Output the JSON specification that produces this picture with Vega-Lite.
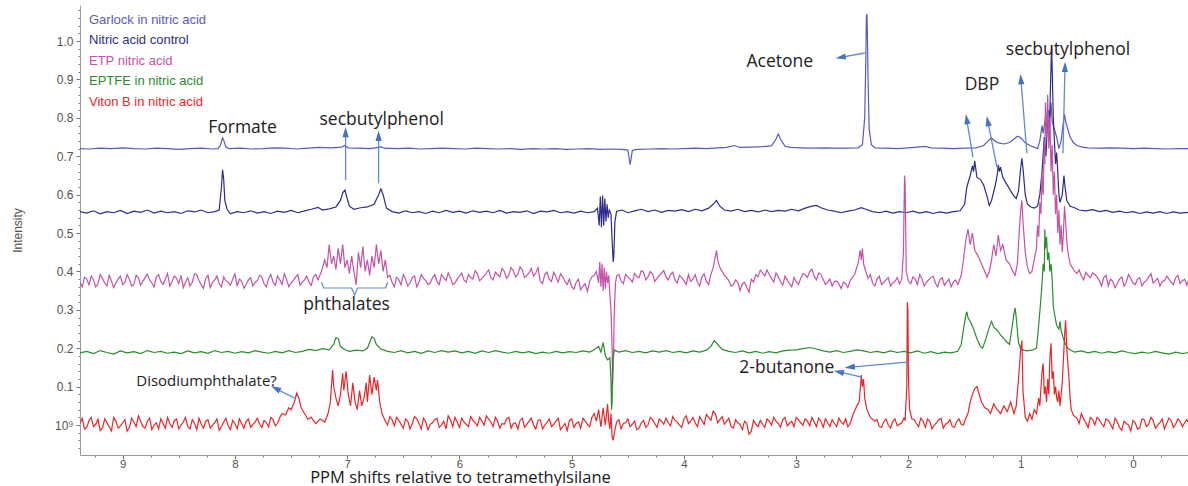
{
  "$schema": "https://vega.github.io/schema/vega-lite/v6.json",
  "width": 1108,
  "height": 450,
  "autosize": "none",
  "padding": {"left": 80, "top": 5, "right": 0, "bottom": 31},
  "background": "white",
  "config": {"view": {"stroke": null}, "axis": {"grid": false}},
  "datasets": {
    "garlock": [
      {"ppm":9.38,"v":0.720},{"ppm":9.3,"v":0.719},{"ppm":9.2,"v":0.721},{"ppm":9.1,"v":0.720},{"ppm":9.0,"v":0.722},{"ppm":8.9,"v":0.720},{"ppm":8.8,"v":0.719},{"ppm":8.7,"v":0.721},{"ppm":8.6,"v":0.720},{"ppm":8.5,"v":0.718},{"ppm":8.4,"v":0.720},{"ppm":8.3,"v":0.721},{"ppm":8.2,"v":0.719},{"ppm":8.15,"v":0.720},{"ppm":8.13,"v":0.728},{"ppm":8.11,"v":0.748},{"ppm":8.10,"v":0.742},{"ppm":8.08,"v":0.724},{"ppm":8.05,"v":0.720},{"ppm":7.95,"v":0.721},{"ppm":7.85,"v":0.719},{"ppm":7.75,"v":0.720},{"ppm":7.65,"v":0.722},{"ppm":7.55,"v":0.721},{"ppm":7.45,"v":0.719},{"ppm":7.35,"v":0.721},{"ppm":7.25,"v":0.723},{"ppm":7.15,"v":0.722},{"ppm":7.05,"v":0.724},{"ppm":7.02,"v":0.728},{"ppm":6.99,"v":0.722},{"ppm":6.9,"v":0.721},{"ppm":6.8,"v":0.720},{"ppm":6.72,"v":0.723},{"ppm":6.70,"v":0.725},{"ppm":6.67,"v":0.721},{"ppm":6.55,"v":0.720},{"ppm":6.45,"v":0.721},{"ppm":6.35,"v":0.719},{"ppm":6.25,"v":0.720},{"ppm":6.15,"v":0.721},{"ppm":6.05,"v":0.720},{"ppm":5.95,"v":0.719},{"ppm":5.85,"v":0.721},{"ppm":5.75,"v":0.720},{"ppm":5.65,"v":0.719},{"ppm":5.55,"v":0.720},{"ppm":5.45,"v":0.718},{"ppm":5.35,"v":0.720},{"ppm":5.25,"v":0.719},{"ppm":5.15,"v":0.720},{"ppm":5.05,"v":0.718},{"ppm":4.95,"v":0.719},{"ppm":4.85,"v":0.720},{"ppm":4.75,"v":0.718},{"ppm":4.65,"v":0.719},{"ppm":4.55,"v":0.718},{"ppm":4.50,"v":0.716},{"ppm":4.49,"v":0.700},{"ppm":4.48,"v":0.678},{"ppm":4.47,"v":0.695},{"ppm":4.46,"v":0.715},{"ppm":4.42,"v":0.718},{"ppm":4.3,"v":0.719},{"ppm":4.2,"v":0.720},{"ppm":4.1,"v":0.719},{"ppm":4.0,"v":0.720},{"ppm":3.9,"v":0.721},{"ppm":3.8,"v":0.720},{"ppm":3.7,"v":0.722},{"ppm":3.62,"v":0.723},{"ppm":3.55,"v":0.728},{"ppm":3.5,"v":0.723},{"ppm":3.4,"v":0.724},{"ppm":3.3,"v":0.725},{"ppm":3.22,"v":0.727},{"ppm":3.18,"v":0.745},{"ppm":3.16,"v":0.758},{"ppm":3.14,"v":0.745},{"ppm":3.1,"v":0.726},{"ppm":3.05,"v":0.723},{"ppm":2.95,"v":0.722},{"ppm":2.85,"v":0.721},{"ppm":2.75,"v":0.722},{"ppm":2.65,"v":0.721},{"ppm":2.55,"v":0.721},{"ppm":2.45,"v":0.722},{"ppm":2.41,"v":0.730},{"ppm":2.39,"v":0.80},{"ppm":2.38,"v":0.95},{"ppm":2.375,"v":1.065},{"ppm":2.37,"v":1.07},{"ppm":2.365,"v":1.0},{"ppm":2.36,"v":0.90},{"ppm":2.35,"v":0.77},{"ppm":2.33,"v":0.73},{"ppm":2.3,"v":0.722},{"ppm":2.2,"v":0.721},{"ppm":2.1,"v":0.720},{"ppm":2.0,"v":0.722},{"ppm":1.92,"v":0.724},{"ppm":1.85,"v":0.726},{"ppm":1.8,"v":0.722},{"ppm":1.7,"v":0.721},{"ppm":1.6,"v":0.720},{"ppm":1.5,"v":0.721},{"ppm":1.4,"v":0.722},{"ppm":1.33,"v":0.728},{"ppm":1.29,"v":0.740},{"ppm":1.26,"v":0.748},{"ppm":1.24,"v":0.742},{"ppm":1.2,"v":0.735},{"ppm":1.15,"v":0.732},{"ppm":1.1,"v":0.736},{"ppm":1.06,"v":0.745},{"ppm":1.03,"v":0.752},{"ppm":1.0,"v":0.748},{"ppm":0.96,"v":0.735},{"ppm":0.92,"v":0.728},{"ppm":0.88,"v":0.724},{"ppm":0.85,"v":0.72},{"ppm":0.83,"v":0.74},{"ppm":0.81,"v":0.78},{"ppm":0.80,"v":0.76},{"ppm":0.78,"v":0.80},{"ppm":0.77,"v":0.78},{"ppm":0.75,"v":0.82},{"ppm":0.74,"v":0.80},{"ppm":0.73,"v":0.84},{"ppm":0.72,"v":0.79},{"ppm":0.70,"v":0.77},{"ppm":0.68,"v":0.75},{"ppm":0.66,"v":0.72},{"ppm":0.64,"v":0.74},{"ppm":0.62,"v":0.79},{"ppm":0.61,"v":0.81},{"ppm":0.60,"v":0.79},{"ppm":0.58,"v":0.77},{"ppm":0.56,"v":0.75},{"ppm":0.53,"v":0.735},{"ppm":0.50,"v":0.728},{"ppm":0.45,"v":0.724},{"ppm":0.4,"v":0.722},{"ppm":0.3,"v":0.721},{"ppm":0.2,"v":0.722},{"ppm":0.1,"v":0.721},{"ppm":0.0,"v":0.720},{"ppm":-0.1,"v":0.721},{"ppm":-0.2,"v":0.720},{"ppm":-0.3,"v":0.719},{"ppm":-0.4,"v":0.720},{"ppm":-0.49,"v":0.720}
    ],
    "control": [
      {"ppm":9.38,"v":0.556},{"ppm":9.32,"v":0.552},{"ppm":9.26,"v":0.558},{"ppm":9.2,"v":0.550},{"ppm":9.14,"v":0.556},{"ppm":9.08,"v":0.553},{"ppm":9.02,"v":0.559},{"ppm":8.96,"v":0.551},{"ppm":8.9,"v":0.557},{"ppm":8.84,"v":0.554},{"ppm":8.78,"v":0.560},{"ppm":8.72,"v":0.552},{"ppm":8.66,"v":0.557},{"ppm":8.6,"v":0.553},{"ppm":8.54,"v":0.556},{"ppm":8.48,"v":0.551},{"ppm":8.42,"v":0.558},{"ppm":8.36,"v":0.555},{"ppm":8.30,"v":0.560},{"ppm":8.24,"v":0.553},{"ppm":8.18,"v":0.556},{"ppm":8.14,"v":0.560},{"ppm":8.12,"v":0.62},{"ppm":8.11,"v":0.665},{"ppm":8.10,"v":0.64},{"ppm":8.09,"v":0.585},{"ppm":8.07,"v":0.562},{"ppm":8.04,"v":0.550},{"ppm":7.98,"v":0.556},{"ppm":7.92,"v":0.553},{"ppm":7.86,"v":0.558},{"ppm":7.8,"v":0.552},{"ppm":7.74,"v":0.556},{"ppm":7.68,"v":0.551},{"ppm":7.62,"v":0.557},{"ppm":7.56,"v":0.554},{"ppm":7.5,"v":0.559},{"ppm":7.44,"v":0.553},{"ppm":7.38,"v":0.558},{"ppm":7.32,"v":0.562},{"ppm":7.26,"v":0.567},{"ppm":7.22,"v":0.560},{"ppm":7.16,"v":0.563},{"ppm":7.10,"v":0.568},{"ppm":7.06,"v":0.585},{"ppm":7.04,"v":0.605},{"ppm":7.02,"v":0.612},{"ppm":7.00,"v":0.59},{"ppm":6.98,"v":0.57},{"ppm":6.94,"v":0.562},{"ppm":6.88,"v":0.566},{"ppm":6.82,"v":0.568},{"ppm":6.76,"v":0.575},{"ppm":6.72,"v":0.60},{"ppm":6.70,"v":0.615},{"ppm":6.68,"v":0.60},{"ppm":6.65,"v":0.565},{"ppm":6.6,"v":0.556},{"ppm":6.54,"v":0.552},{"ppm":6.48,"v":0.558},{"ppm":6.42,"v":0.553},{"ppm":6.36,"v":0.556},{"ppm":6.3,"v":0.551},{"ppm":6.24,"v":0.557},{"ppm":6.18,"v":0.553},{"ppm":6.12,"v":0.559},{"ppm":6.06,"v":0.554},{"ppm":6.0,"v":0.557},{"ppm":5.94,"v":0.552},{"ppm":5.88,"v":0.558},{"ppm":5.82,"v":0.554},{"ppm":5.76,"v":0.557},{"ppm":5.7,"v":0.553},{"ppm":5.64,"v":0.559},{"ppm":5.58,"v":0.552},{"ppm":5.52,"v":0.556},{"ppm":5.46,"v":0.554},{"ppm":5.4,"v":0.558},{"ppm":5.34,"v":0.551},{"ppm":5.28,"v":0.557},{"ppm":5.22,"v":0.555},{"ppm":5.16,"v":0.559},{"ppm":5.1,"v":0.553},{"ppm":5.04,"v":0.556},{"ppm":4.98,"v":0.552},{"ppm":4.92,"v":0.557},{"ppm":4.86,"v":0.553},{"ppm":4.8,"v":0.556},{"ppm":4.77,"v":0.565},{"ppm":4.755,"v":0.52},{"ppm":4.745,"v":0.595},{"ppm":4.735,"v":0.515},{"ppm":4.725,"v":0.598},{"ppm":4.715,"v":0.52},{"ppm":4.705,"v":0.59},{"ppm":4.695,"v":0.53},{"ppm":4.685,"v":0.575},{"ppm":4.675,"v":0.54},{"ppm":4.665,"v":0.56},{"ppm":4.65,"v":0.55},{"ppm":4.64,"v":0.48},{"ppm":4.63,"v":0.425},{"ppm":4.625,"v":0.44},{"ppm":4.615,"v":0.53},{"ppm":4.6,"v":0.557},{"ppm":4.55,"v":0.560},{"ppm":4.5,"v":0.553},{"ppm":4.44,"v":0.558},{"ppm":4.38,"v":0.562},{"ppm":4.32,"v":0.556},{"ppm":4.26,"v":0.560},{"ppm":4.2,"v":0.554},{"ppm":4.14,"v":0.559},{"ppm":4.08,"v":0.557},{"ppm":4.02,"v":0.561},{"ppm":3.96,"v":0.556},{"ppm":3.9,"v":0.562},{"ppm":3.84,"v":0.558},{"ppm":3.78,"v":0.565},{"ppm":3.74,"v":0.575},{"ppm":3.71,"v":0.585},{"ppm":3.68,"v":0.57},{"ppm":3.64,"v":0.560},{"ppm":3.58,"v":0.557},{"ppm":3.52,"v":0.562},{"ppm":3.46,"v":0.556},{"ppm":3.4,"v":0.559},{"ppm":3.34,"v":0.555},{"ppm":3.28,"v":0.560},{"ppm":3.22,"v":0.556},{"ppm":3.16,"v":0.559},{"ppm":3.1,"v":0.557},{"ppm":3.04,"v":0.562},{"ppm":2.98,"v":0.558},{"ppm":2.92,"v":0.565},{"ppm":2.86,"v":0.570},{"ppm":2.82,"v":0.572},{"ppm":2.78,"v":0.566},{"ppm":2.72,"v":0.560},{"ppm":2.66,"v":0.557},{"ppm":2.6,"v":0.553},{"ppm":2.54,"v":0.557},{"ppm":2.48,"v":0.560},{"ppm":2.42,"v":0.566},{"ppm":2.38,"v":0.562},{"ppm":2.32,"v":0.556},{"ppm":2.26,"v":0.553},{"ppm":2.2,"v":0.557},{"ppm":2.14,"v":0.552},{"ppm":2.08,"v":0.556},{"ppm":2.02,"v":0.553},{"ppm":1.96,"v":0.557},{"ppm":1.9,"v":0.552},{"ppm":1.84,"v":0.556},{"ppm":1.78,"v":0.551},{"ppm":1.72,"v":0.555},{"ppm":1.66,"v":0.552},{"ppm":1.6,"v":0.556},{"ppm":1.54,"v":0.558},{"ppm":1.5,"v":0.575},{"ppm":1.48,"v":0.62},{"ppm":1.45,"v":0.65},{"ppm":1.43,"v":0.675},{"ppm":1.42,"v":0.66},{"ppm":1.41,"v":0.688},{"ppm":1.39,"v":0.645},{"ppm":1.36,"v":0.64},{"ppm":1.33,"v":0.625},{"ppm":1.30,"v":0.595},{"ppm":1.28,"v":0.572},{"ppm":1.26,"v":0.585},{"ppm":1.23,"v":0.62},{"ppm":1.21,"v":0.65},{"ppm":1.20,"v":0.678},{"ppm":1.19,"v":0.66},{"ppm":1.18,"v":0.672},{"ppm":1.16,"v":0.645},{"ppm":1.13,"v":0.63},{"ppm":1.10,"v":0.615},{"ppm":1.07,"v":0.60},{"ppm":1.04,"v":0.59},{"ppm":1.02,"v":0.61},{"ppm":1.00,"v":0.67},{"ppm":0.99,"v":0.695},{"ppm":0.98,"v":0.67},{"ppm":0.96,"v":0.60},{"ppm":0.94,"v":0.575},{"ppm":0.91,"v":0.568},{"ppm":0.88,"v":0.565},{"ppm":0.85,"v":0.570},{"ppm":0.83,"v":0.60},{"ppm":0.81,"v":0.66},{"ppm":0.79,"v":0.75},{"ppm":0.775,"v":0.70},{"ppm":0.76,"v":0.80},{"ppm":0.745,"v":0.76},{"ppm":0.735,"v":0.88},{"ppm":0.725,"v":0.99},{"ppm":0.72,"v":0.93},{"ppm":0.71,"v":0.80},{"ppm":0.70,"v":0.74},{"ppm":0.69,"v":0.68},{"ppm":0.68,"v":0.71},{"ppm":0.67,"v":0.66},{"ppm":0.66,"v":0.60},{"ppm":0.65,"v":0.58},{"ppm":0.63,"v":0.60},{"ppm":0.615,"v":0.65},{"ppm":0.605,"v":0.62},{"ppm":0.59,"v":0.585},{"ppm":0.56,"v":0.57},{"ppm":0.52,"v":0.566},{"ppm":0.48,"v":0.560},{"ppm":0.42,"v":0.558},{"ppm":0.36,"v":0.561},{"ppm":0.3,"v":0.556},{"ppm":0.24,"v":0.559},{"ppm":0.18,"v":0.554},{"ppm":0.12,"v":0.557},{"ppm":0.06,"v":0.553},{"ppm":0.0,"v":0.556},{"ppm":-0.06,"v":0.551},{"ppm":-0.12,"v":0.555},{"ppm":-0.18,"v":0.552},{"ppm":-0.24,"v":0.556},{"ppm":-0.3,"v":0.551},{"ppm":-0.36,"v":0.555},{"ppm":-0.42,"v":0.552},{"ppm":-0.49,"v":0.554}
    ],
    "etp": [
      {"ppm":9.38,"v":0.372},{"ppm":9.34,"v":0.385},{"ppm":9.30,"v":0.365},{"ppm":9.26,"v":0.378},{"ppm":9.22,"v":0.368},{"ppm":9.18,"v":0.382},{"ppm":9.14,"v":0.362},{"ppm":9.10,"v":0.376},{"ppm":9.06,"v":0.370},{"ppm":9.02,"v":0.388},{"ppm":8.98,"v":0.372},{"ppm":8.94,"v":0.380},{"ppm":8.90,"v":0.366},{"ppm":8.86,"v":0.384},{"ppm":8.82,"v":0.375},{"ppm":8.78,"v":0.393},{"ppm":8.74,"v":0.370},{"ppm":8.70,"v":0.386},{"ppm":8.66,"v":0.374},{"ppm":8.62,"v":0.380},{"ppm":8.58,"v":0.362},{"ppm":8.54,"v":0.388},{"ppm":8.50,"v":0.368},{"ppm":8.46,"v":0.358},{"ppm":8.42,"v":0.384},{"ppm":8.38,"v":0.372},{"ppm":8.34,"v":0.392},{"ppm":8.30,"v":0.365},{"ppm":8.26,"v":0.382},{"ppm":8.22,"v":0.358},{"ppm":8.18,"v":0.378},{"ppm":8.14,"v":0.368},{"ppm":8.10,"v":0.386},{"ppm":8.06,"v":0.372},{"ppm":8.02,"v":0.380},{"ppm":7.98,"v":0.362},{"ppm":7.94,"v":0.375},{"ppm":7.90,"v":0.366},{"ppm":7.86,"v":0.384},{"ppm":7.82,"v":0.372},{"ppm":7.78,"v":0.390},{"ppm":7.74,"v":0.368},{"ppm":7.70,"v":0.382},{"ppm":7.66,"v":0.372},{"ppm":7.62,"v":0.388},{"ppm":7.58,"v":0.366},{"ppm":7.54,"v":0.380},{"ppm":7.50,"v":0.370},{"ppm":7.46,"v":0.385},{"ppm":7.42,"v":0.364},{"ppm":7.38,"v":0.378},{"ppm":7.34,"v":0.372},{"ppm":7.30,"v":0.386},{"ppm":7.26,"v":0.378},{"ppm":7.23,"v":0.40},{"ppm":7.20,"v":0.43},{"ppm":7.18,"v":0.41},{"ppm":7.16,"v":0.47},{"ppm":7.14,"v":0.42},{"ppm":7.12,"v":0.44},{"ppm":7.10,"v":0.405},{"ppm":7.08,"v":0.46},{"ppm":7.06,"v":0.42},{"ppm":7.04,"v":0.47},{"ppm":7.02,"v":0.41},{"ppm":7.00,"v":0.43},{"ppm":6.98,"v":0.395},{"ppm":6.96,"v":0.44},{"ppm":6.94,"v":0.40},{"ppm":6.92,"v":0.365},{"ppm":6.90,"v":0.45},{"ppm":6.88,"v":0.41},{"ppm":6.86,"v":0.465},{"ppm":6.84,"v":0.40},{"ppm":6.82,"v":0.43},{"ppm":6.80,"v":0.39},{"ppm":6.78,"v":0.44},{"ppm":6.76,"v":0.41},{"ppm":6.74,"v":0.47},{"ppm":6.72,"v":0.42},{"ppm":6.70,"v":0.455},{"ppm":6.68,"v":0.40},{"ppm":6.66,"v":0.43},{"ppm":6.64,"v":0.385},{"ppm":6.60,"v":0.372},{"ppm":6.56,"v":0.385},{"ppm":6.52,"v":0.365},{"ppm":6.48,"v":0.380},{"ppm":6.44,"v":0.370},{"ppm":6.40,"v":0.388},{"ppm":6.36,"v":0.372},{"ppm":6.32,"v":0.382},{"ppm":6.28,"v":0.366},{"ppm":6.24,"v":0.384},{"ppm":6.20,"v":0.374},{"ppm":6.16,"v":0.392},{"ppm":6.12,"v":0.376},{"ppm":6.08,"v":0.384},{"ppm":6.04,"v":0.370},{"ppm":6.00,"v":0.388},{"ppm":5.96,"v":0.378},{"ppm":5.92,"v":0.392},{"ppm":5.88,"v":0.380},{"ppm":5.84,"v":0.394},{"ppm":5.80,"v":0.382},{"ppm":5.76,"v":0.396},{"ppm":5.72,"v":0.384},{"ppm":5.68,"v":0.398},{"ppm":5.64,"v":0.386},{"ppm":5.60,"v":0.400},{"ppm":5.56,"v":0.390},{"ppm":5.52,"v":0.402},{"ppm":5.48,"v":0.392},{"ppm":5.44,"v":0.404},{"ppm":5.40,"v":0.390},{"ppm":5.36,"v":0.408},{"ppm":5.32,"v":0.396},{"ppm":5.28,"v":0.375},{"ppm":5.24,"v":0.392},{"ppm":5.20,"v":0.380},{"ppm":5.16,"v":0.398},{"ppm":5.12,"v":0.372},{"ppm":5.08,"v":0.386},{"ppm":5.04,"v":0.366},{"ppm":5.00,"v":0.360},{"ppm":4.96,"v":0.372},{"ppm":4.92,"v":0.352},{"ppm":4.88,"v":0.368},{"ppm":4.84,"v":0.374},{"ppm":4.80,"v":0.390},{"ppm":4.78,"v":0.40},{"ppm":4.76,"v":0.37},{"ppm":4.75,"v":0.425},{"ppm":4.74,"v":0.36},{"ppm":4.73,"v":0.42},{"ppm":4.72,"v":0.35},{"ppm":4.71,"v":0.41},{"ppm":4.70,"v":0.355},{"ppm":4.69,"v":0.40},{"ppm":4.68,"v":0.37},{"ppm":4.67,"v":0.39},{"ppm":4.66,"v":0.34},{"ppm":4.65,"v":0.30},{"ppm":4.64,"v":0.20},{"ppm":4.635,"v":0.105},{"ppm":4.63,"v":0.15},{"ppm":4.62,"v":0.30},{"ppm":4.61,"v":0.37},{"ppm":4.60,"v":0.388},{"ppm":4.56,"v":0.375},{"ppm":4.52,"v":0.392},{"ppm":4.48,"v":0.380},{"ppm":4.44,"v":0.395},{"ppm":4.40,"v":0.384},{"ppm":4.36,"v":0.398},{"ppm":4.32,"v":0.386},{"ppm":4.28,"v":0.394},{"ppm":4.24,"v":0.382},{"ppm":4.20,"v":0.396},{"ppm":4.16,"v":0.386},{"ppm":4.12,"v":0.392},{"ppm":4.08,"v":0.378},{"ppm":4.04,"v":0.390},{"ppm":4.00,"v":0.376},{"ppm":3.96,"v":0.392},{"ppm":3.92,"v":0.380},{"ppm":3.88,"v":0.372},{"ppm":3.84,"v":0.386},{"ppm":3.80,"v":0.374},{"ppm":3.76,"v":0.392},{"ppm":3.74,"v":0.41},{"ppm":3.72,"v":0.44},{"ppm":3.71,"v":0.455},{"ppm":3.70,"v":0.43},{"ppm":3.68,"v":0.41},{"ppm":3.64,"v":0.390},{"ppm":3.60,"v":0.376},{"ppm":3.56,"v":0.365},{"ppm":3.52,"v":0.372},{"ppm":3.50,"v":0.350},{"ppm":3.48,"v":0.368},{"ppm":3.44,"v":0.358},{"ppm":3.40,"v":0.380},{"ppm":3.36,"v":0.392},{"ppm":3.32,"v":0.404},{"ppm":3.28,"v":0.388},{"ppm":3.24,"v":0.392},{"ppm":3.20,"v":0.372},{"ppm":3.16,"v":0.386},{"ppm":3.12,"v":0.364},{"ppm":3.08,"v":0.378},{"ppm":3.04,"v":0.360},{"ppm":3.00,"v":0.374},{"ppm":2.96,"v":0.382},{"ppm":2.92,"v":0.392},{"ppm":2.88,"v":0.400},{"ppm":2.84,"v":0.388},{"ppm":2.80,"v":0.396},{"ppm":2.76,"v":0.380},{"ppm":2.72,"v":0.372},{"ppm":2.68,"v":0.362},{"ppm":2.64,"v":0.375},{"ppm":2.60,"v":0.355},{"ppm":2.56,"v":0.368},{"ppm":2.52,"v":0.376},{"ppm":2.48,"v":0.392},{"ppm":2.45,"v":0.42},{"ppm":2.43,"v":0.455},{"ppm":2.42,"v":0.43},{"ppm":2.41,"v":0.46},{"ppm":2.40,"v":0.42},{"ppm":2.38,"v":0.40},{"ppm":2.36,"v":0.382},{"ppm":2.32,"v":0.370},{"ppm":2.28,"v":0.380},{"ppm":2.24,"v":0.366},{"ppm":2.20,"v":0.378},{"ppm":2.16,"v":0.362},{"ppm":2.12,"v":0.374},{"ppm":2.08,"v":0.368},{"ppm":2.06,"v":0.38},{"ppm":2.045,"v":0.45},{"ppm":2.035,"v":0.65},{"ppm":2.03,"v":0.63},{"ppm":2.025,"v":0.52},{"ppm":2.02,"v":0.40},{"ppm":2.00,"v":0.375},{"ppm":1.96,"v":0.386},{"ppm":1.92,"v":0.366},{"ppm":1.88,"v":0.382},{"ppm":1.84,"v":0.372},{"ppm":1.80,"v":0.384},{"ppm":1.76,"v":0.370},{"ppm":1.72,"v":0.378},{"ppm":1.68,"v":0.364},{"ppm":1.64,"v":0.380},{"ppm":1.60,"v":0.372},{"ppm":1.56,"v":0.366},{"ppm":1.53,"v":0.39},{"ppm":1.51,"v":0.43},{"ppm":1.49,"v":0.48},{"ppm":1.47,"v":0.51},{"ppm":1.45,"v":0.47},{"ppm":1.43,"v":0.50},{"ppm":1.41,"v":0.455},{"ppm":1.38,"v":0.44},{"ppm":1.35,"v":0.42},{"ppm":1.32,"v":0.40},{"ppm":1.30,"v":0.385},{"ppm":1.28,"v":0.40},{"ppm":1.26,"v":0.43},{"ppm":1.24,"v":0.47},{"ppm":1.22,"v":0.44},{"ppm":1.20,"v":0.495},{"ppm":1.18,"v":0.455},{"ppm":1.16,"v":0.47},{"ppm":1.13,"v":0.43},{"ppm":1.10,"v":0.42},{"ppm":1.07,"v":0.40},{"ppm":1.05,"v":0.39},{"ppm":1.03,"v":0.42},{"ppm":1.01,"v":0.52},{"ppm":1.00,"v":0.56},{"ppm":0.99,"v":0.585},{"ppm":0.98,"v":0.53},{"ppm":0.96,"v":0.45},{"ppm":0.94,"v":0.41},{"ppm":0.92,"v":0.395},{"ppm":0.90,"v":0.40},{"ppm":0.88,"v":0.43},{"ppm":0.86,"v":0.46},{"ppm":0.85,"v":0.52},{"ppm":0.84,"v":0.49},{"ppm":0.83,"v":0.58},{"ppm":0.82,"v":0.55},{"ppm":0.81,"v":0.65},{"ppm":0.80,"v":0.60},{"ppm":0.79,"v":0.74},{"ppm":0.785,"v":0.68},{"ppm":0.78,"v":0.84},{"ppm":0.77,"v":0.75},{"ppm":0.76,"v":0.86},{"ppm":0.75,"v":0.72},{"ppm":0.74,"v":0.80},{"ppm":0.73,"v":0.66},{"ppm":0.72,"v":0.73},{"ppm":0.71,"v":0.60},{"ppm":0.70,"v":0.66},{"ppm":0.69,"v":0.55},{"ppm":0.68,"v":0.60},{"ppm":0.67,"v":0.50},{"ppm":0.66,"v":0.56},{"ppm":0.65,"v":0.47},{"ppm":0.64,"v":0.52},{"ppm":0.63,"v":0.45},{"ppm":0.62,"v":0.50},{"ppm":0.61,"v":0.57},{"ppm":0.60,"v":0.53},{"ppm":0.59,"v":0.48},{"ppm":0.58,"v":0.45},{"ppm":0.56,"v":0.42},{"ppm":0.54,"v":0.41},{"ppm":0.52,"v":0.40},{"ppm":0.50,"v":0.395},{"ppm":0.46,"v":0.388},{"ppm":0.42,"v":0.398},{"ppm":0.38,"v":0.384},{"ppm":0.34,"v":0.392},{"ppm":0.30,"v":0.376},{"ppm":0.26,"v":0.384},{"ppm":0.22,"v":0.362},{"ppm":0.18,"v":0.374},{"ppm":0.14,"v":0.368},{"ppm":0.10,"v":0.386},{"ppm":0.06,"v":0.372},{"ppm":0.02,"v":0.382},{"ppm":-0.02,"v":0.366},{"ppm":-0.06,"v":0.384},{"ppm":-0.10,"v":0.372},{"ppm":-0.14,"v":0.386},{"ppm":-0.18,"v":0.370},{"ppm":-0.22,"v":0.382},{"ppm":-0.26,"v":0.374},{"ppm":-0.30,"v":0.388},{"ppm":-0.34,"v":0.372},{"ppm":-0.38,"v":0.384},{"ppm":-0.42,"v":0.368},{"ppm":-0.46,"v":0.380},{"ppm":-0.49,"v":0.375},
      {"ppm":9.36,"v":0.360},{"ppm":9.32,"v":0.380},{"ppm":9.28,"v":0.388},{"ppm":9.24,"v":0.360},{"ppm":9.20,"v":0.392},{"ppm":9.16,"v":0.370},{"ppm":9.12,"v":0.390},{"ppm":9.08,"v":0.358},{"ppm":9.04,"v":0.380},{"ppm":9.00,"v":0.366},{"ppm":8.96,"v":0.392},{"ppm":8.92,"v":0.362},{"ppm":8.88,"v":0.390},{"ppm":8.84,"v":0.364},{"ppm":8.80,"v":0.384},{"ppm":8.76,"v":0.378},{"ppm":8.72,"v":0.360},{"ppm":8.68,"v":0.392},{"ppm":8.64,"v":0.366},{"ppm":8.60,"v":0.395},{"ppm":8.56,"v":0.374},{"ppm":8.52,"v":0.382},{"ppm":8.48,"v":0.390},{"ppm":8.44,"v":0.372},{"ppm":8.40,"v":0.362},{"ppm":8.36,"v":0.394},{"ppm":8.32,"v":0.376},{"ppm":8.28,"v":0.356},{"ppm":8.24,"v":0.390},{"ppm":8.20,"v":0.372},{"ppm":8.16,"v":0.388},{"ppm":8.12,"v":0.360},{"ppm":8.08,"v":0.376},{"ppm":8.04,"v":0.364},{"ppm":8.00,"v":0.394},{"ppm":7.96,"v":0.380},{"ppm":7.92,"v":0.356},{"ppm":7.88,"v":0.378},{"ppm":7.84,"v":0.362},{"ppm":7.80,"v":0.376},{"ppm":7.76,"v":0.386},{"ppm":7.72,"v":0.360},{"ppm":7.68,"v":0.392},{"ppm":7.64,"v":0.364},{"ppm":7.60,"v":0.378},{"ppm":7.56,"v":0.394},{"ppm":7.52,"v":0.360},{"ppm":7.48,"v":0.376},{"ppm":7.44,"v":0.392},{"ppm":7.40,"v":0.372},{"ppm":7.36,"v":0.388},{"ppm":7.32,"v":0.364},{"ppm":7.28,"v":0.392},
      {"ppm":6.62,"v":0.390},{"ppm":6.58,"v":0.360},{"ppm":6.54,"v":0.378},{"ppm":6.50,"v":0.392},{"ppm":6.46,"v":0.362},{"ppm":6.42,"v":0.384},{"ppm":6.38,"v":0.360},{"ppm":6.34,"v":0.392},{"ppm":6.30,"v":0.376},{"ppm":6.26,"v":0.370},{"ppm":6.22,"v":0.392},{"ppm":6.18,"v":0.366},{"ppm":6.14,"v":0.384},{"ppm":6.10,"v":0.396},{"ppm":6.06,"v":0.366},{"ppm":6.02,"v":0.380},{"ppm":5.98,"v":0.396},{"ppm":5.94,"v":0.372},{"ppm":5.90,"v":0.384},{"ppm":5.86,"v":0.402},{"ppm":5.82,"v":0.376},{"ppm":5.78,"v":0.388},{"ppm":5.74,"v":0.404},{"ppm":5.70,"v":0.378},{"ppm":5.66,"v":0.392},{"ppm":5.62,"v":0.408},{"ppm":5.58,"v":0.382},{"ppm":5.54,"v":0.410},{"ppm":5.50,"v":0.386},{"ppm":5.46,"v":0.412},{"ppm":5.42,"v":0.384},{"ppm":5.38,"v":0.396},{"ppm":5.34,"v":0.388},{"ppm":5.30,"v":0.410},{"ppm":5.26,"v":0.368},{"ppm":5.22,"v":0.398},{"ppm":5.18,"v":0.374},{"ppm":5.14,"v":0.386},{"ppm":5.10,"v":0.394},{"ppm":5.06,"v":0.374},{"ppm":5.02,"v":0.380},{"ppm":4.98,"v":0.354},{"ppm":4.94,"v":0.380},{"ppm":4.90,"v":0.362},{"ppm":4.86,"v":0.348},{"ppm":4.82,"v":0.386},
      {"ppm":4.58,"v":0.392},{"ppm":4.54,"v":0.368},{"ppm":4.50,"v":0.386},{"ppm":4.46,"v":0.372},{"ppm":4.42,"v":0.386},{"ppm":4.38,"v":0.402},{"ppm":4.34,"v":0.378},{"ppm":4.30,"v":0.400},{"ppm":4.26,"v":0.374},{"ppm":4.22,"v":0.390},{"ppm":4.18,"v":0.402},{"ppm":4.14,"v":0.378},{"ppm":4.10,"v":0.398},{"ppm":4.06,"v":0.370},{"ppm":4.02,"v":0.384},{"ppm":3.98,"v":0.366},{"ppm":3.94,"v":0.374},{"ppm":3.90,"v":0.392},{"ppm":3.86,"v":0.362},{"ppm":3.82,"v":0.394},{"ppm":3.78,"v":0.366},
      {"ppm":3.62,"v":0.384},{"ppm":3.58,"v":0.362},{"ppm":3.54,"v":0.378},{"ppm":3.46,"v":0.372},{"ppm":3.42,"v":0.346},{"ppm":3.38,"v":0.372},{"ppm":3.34,"v":0.386},{"ppm":3.30,"v":0.396},{"ppm":3.26,"v":0.404},{"ppm":3.22,"v":0.382},{"ppm":3.18,"v":0.396},{"ppm":3.14,"v":0.374},{"ppm":3.10,"v":0.388},{"ppm":3.06,"v":0.368},{"ppm":3.02,"v":0.384},{"ppm":2.98,"v":0.366},{"ppm":2.94,"v":0.394},{"ppm":2.90,"v":0.384},{"ppm":2.86,"v":0.406},{"ppm":2.82,"v":0.378},{"ppm":2.78,"v":0.392},{"ppm":2.74,"v":0.366},{"ppm":2.70,"v":0.380},{"ppm":2.66,"v":0.374},{"ppm":2.62,"v":0.368},{"ppm":2.58,"v":0.372},{"ppm":2.54,"v":0.358},{"ppm":2.50,"v":0.384},
      {"ppm":2.34,"v":0.392},{"ppm":2.30,"v":0.362},{"ppm":2.26,"v":0.388},{"ppm":2.22,"v":0.372},{"ppm":2.18,"v":0.384},{"ppm":2.14,"v":0.370},{"ppm":2.10,"v":0.384},
      {"ppm":1.98,"v":0.368},{"ppm":1.94,"v":0.380},{"ppm":1.90,"v":0.392},{"ppm":1.86,"v":0.362},{"ppm":1.82,"v":0.378},{"ppm":1.78,"v":0.388},{"ppm":1.74,"v":0.360},{"ppm":1.70,"v":0.384},{"ppm":1.66,"v":0.372},{"ppm":1.62,"v":0.360},{"ppm":1.58,"v":0.378},
      {"ppm":0.48,"v":0.404},{"ppm":0.44,"v":0.378},{"ppm":0.40,"v":0.390},{"ppm":0.36,"v":0.396},{"ppm":0.32,"v":0.386},{"ppm":0.28,"v":0.362},{"ppm":0.24,"v":0.390},{"ppm":0.20,"v":0.380},{"ppm":0.16,"v":0.358},{"ppm":0.12,"v":0.380},{"ppm":0.08,"v":0.362},{"ppm":0.04,"v":0.392},{"ppm":0.00,"v":0.370},{"ppm":-0.04,"v":0.380},{"ppm":-0.08,"v":0.362},{"ppm":-0.12,"v":0.376},{"ppm":-0.16,"v":0.394},{"ppm":-0.20,"v":0.376},{"ppm":-0.24,"v":0.362},{"ppm":-0.28,"v":0.376},{"ppm":-0.32,"v":0.380},{"ppm":-0.36,"v":0.366},{"ppm":-0.40,"v":0.390},{"ppm":-0.44,"v":0.376},{"ppm":-0.48,"v":0.364}
    ],
    "eptfe": [
      {"ppm":9.38,"v":0.188},{"ppm":9.32,"v":0.192},{"ppm":9.26,"v":0.186},{"ppm":9.2,"v":0.194},{"ppm":9.14,"v":0.189},{"ppm":9.08,"v":0.185},{"ppm":9.02,"v":0.193},{"ppm":8.96,"v":0.188},{"ppm":8.9,"v":0.191},{"ppm":8.84,"v":0.186},{"ppm":8.78,"v":0.194},{"ppm":8.72,"v":0.189},{"ppm":8.66,"v":0.192},{"ppm":8.6,"v":0.187},{"ppm":8.54,"v":0.190},{"ppm":8.48,"v":0.186},{"ppm":8.42,"v":0.193},{"ppm":8.36,"v":0.188},{"ppm":8.30,"v":0.191},{"ppm":8.24,"v":0.187},{"ppm":8.18,"v":0.194},{"ppm":8.12,"v":0.189},{"ppm":8.06,"v":0.192},{"ppm":8.0,"v":0.187},{"ppm":7.94,"v":0.191},{"ppm":7.88,"v":0.188},{"ppm":7.82,"v":0.194},{"ppm":7.76,"v":0.190},{"ppm":7.7,"v":0.187},{"ppm":7.64,"v":0.192},{"ppm":7.58,"v":0.188},{"ppm":7.52,"v":0.194},{"ppm":7.46,"v":0.189},{"ppm":7.40,"v":0.192},{"ppm":7.34,"v":0.197},{"ppm":7.28,"v":0.194},{"ppm":7.22,"v":0.199},{"ppm":7.16,"v":0.196},{"ppm":7.12,"v":0.21},{"ppm":7.10,"v":0.228},{"ppm":7.08,"v":0.225},{"ppm":7.06,"v":0.205},{"ppm":7.02,"v":0.196},{"ppm":6.98,"v":0.192},{"ppm":6.92,"v":0.195},{"ppm":6.86,"v":0.193},{"ppm":6.82,"v":0.20},{"ppm":6.78,"v":0.23},{"ppm":6.76,"v":0.225},{"ppm":6.74,"v":0.21},{"ppm":6.70,"v":0.198},{"ppm":6.64,"v":0.192},{"ppm":6.58,"v":0.189},{"ppm":6.52,"v":0.194},{"ppm":6.46,"v":0.188},{"ppm":6.40,"v":0.192},{"ppm":6.34,"v":0.187},{"ppm":6.28,"v":0.193},{"ppm":6.22,"v":0.189},{"ppm":6.16,"v":0.194},{"ppm":6.10,"v":0.190},{"ppm":6.04,"v":0.193},{"ppm":5.98,"v":0.188},{"ppm":5.92,"v":0.192},{"ppm":5.86,"v":0.187},{"ppm":5.80,"v":0.193},{"ppm":5.74,"v":0.189},{"ppm":5.68,"v":0.194},{"ppm":5.62,"v":0.190},{"ppm":5.56,"v":0.187},{"ppm":5.50,"v":0.192},{"ppm":5.44,"v":0.188},{"ppm":5.38,"v":0.191},{"ppm":5.32,"v":0.186},{"ppm":5.26,"v":0.190},{"ppm":5.20,"v":0.187},{"ppm":5.14,"v":0.192},{"ppm":5.08,"v":0.188},{"ppm":5.02,"v":0.191},{"ppm":4.96,"v":0.189},{"ppm":4.90,"v":0.193},{"ppm":4.84,"v":0.190},{"ppm":4.80,"v":0.196},{"ppm":4.76,"v":0.205},{"ppm":4.74,"v":0.19},{"ppm":4.72,"v":0.215},{"ppm":4.70,"v":0.18},{"ppm":4.68,"v":0.17},{"ppm":4.66,"v":0.175},{"ppm":4.65,"v":0.12},{"ppm":4.645,"v":0.04},{"ppm":4.64,"v":0.06},{"ppm":4.635,"v":0.17},{"ppm":4.62,"v":0.195},{"ppm":4.58,"v":0.190},{"ppm":4.52,"v":0.194},{"ppm":4.46,"v":0.189},{"ppm":4.40,"v":0.192},{"ppm":4.34,"v":0.188},{"ppm":4.28,"v":0.193},{"ppm":4.22,"v":0.190},{"ppm":4.16,"v":0.194},{"ppm":4.10,"v":0.189},{"ppm":4.04,"v":0.192},{"ppm":3.98,"v":0.188},{"ppm":3.92,"v":0.193},{"ppm":3.86,"v":0.190},{"ppm":3.80,"v":0.195},{"ppm":3.76,"v":0.205},{"ppm":3.73,"v":0.22},{"ppm":3.70,"v":0.21},{"ppm":3.66,"v":0.197},{"ppm":3.60,"v":0.192},{"ppm":3.54,"v":0.189},{"ppm":3.48,"v":0.193},{"ppm":3.42,"v":0.188},{"ppm":3.36,"v":0.192},{"ppm":3.30,"v":0.187},{"ppm":3.24,"v":0.191},{"ppm":3.18,"v":0.188},{"ppm":3.12,"v":0.193},{"ppm":3.06,"v":0.195},{"ppm":3.00,"v":0.196},{"ppm":2.94,"v":0.199},{"ppm":2.88,"v":0.202},{"ppm":2.82,"v":0.198},{"ppm":2.76,"v":0.193},{"ppm":2.70,"v":0.190},{"ppm":2.64,"v":0.194},{"ppm":2.58,"v":0.189},{"ppm":2.52,"v":0.192},{"ppm":2.46,"v":0.196},{"ppm":2.40,"v":0.193},{"ppm":2.34,"v":0.189},{"ppm":2.28,"v":0.192},{"ppm":2.22,"v":0.188},{"ppm":2.16,"v":0.193},{"ppm":2.10,"v":0.189},{"ppm":2.04,"v":0.192},{"ppm":1.98,"v":0.188},{"ppm":1.92,"v":0.193},{"ppm":1.86,"v":0.187},{"ppm":1.80,"v":0.191},{"ppm":1.74,"v":0.186},{"ppm":1.68,"v":0.190},{"ppm":1.62,"v":0.188},{"ppm":1.56,"v":0.192},{"ppm":1.53,"v":0.21},{"ppm":1.51,"v":0.25},{"ppm":1.49,"v":0.285},{"ppm":1.48,"v":0.295},{"ppm":1.47,"v":0.28},{"ppm":1.45,"v":0.27},{"ppm":1.42,"v":0.25},{"ppm":1.39,"v":0.225},{"ppm":1.36,"v":0.205},{"ppm":1.34,"v":0.20},{"ppm":1.31,"v":0.225},{"ppm":1.28,"v":0.255},{"ppm":1.26,"v":0.27},{"ppm":1.24,"v":0.255},{"ppm":1.21,"v":0.247},{"ppm":1.18,"v":0.235},{"ppm":1.15,"v":0.225},{"ppm":1.12,"v":0.215},{"ppm":1.10,"v":0.21},{"ppm":1.08,"v":0.25},{"ppm":1.06,"v":0.29},{"ppm":1.05,"v":0.305},{"ppm":1.04,"v":0.28},{"ppm":1.02,"v":0.215},{"ppm":1.00,"v":0.197},{"ppm":0.95,"v":0.193},{"ppm":0.90,"v":0.195},{"ppm":0.86,"v":0.20},{"ppm":0.84,"v":0.26},{"ppm":0.82,"v":0.33},{"ppm":0.81,"v":0.37},{"ppm":0.80,"v":0.42},{"ppm":0.79,"v":0.40},{"ppm":0.785,"v":0.51},{"ppm":0.78,"v":0.46},{"ppm":0.77,"v":0.49},{"ppm":0.76,"v":0.43},{"ppm":0.75,"v":0.45},{"ppm":0.74,"v":0.40},{"ppm":0.73,"v":0.42},{"ppm":0.72,"v":0.38},{"ppm":0.71,"v":0.31},{"ppm":0.70,"v":0.29},{"ppm":0.68,"v":0.26},{"ppm":0.66,"v":0.25},{"ppm":0.65,"v":0.27},{"ppm":0.64,"v":0.245},{"ppm":0.62,"v":0.225},{"ppm":0.60,"v":0.21},{"ppm":0.58,"v":0.20},{"ppm":0.55,"v":0.194},{"ppm":0.52,"v":0.190},{"ppm":0.46,"v":0.193},{"ppm":0.40,"v":0.188},{"ppm":0.34,"v":0.192},{"ppm":0.28,"v":0.187},{"ppm":0.22,"v":0.191},{"ppm":0.16,"v":0.188},{"ppm":0.10,"v":0.193},{"ppm":0.04,"v":0.189},{"ppm":-0.02,"v":0.186},{"ppm":-0.08,"v":0.190},{"ppm":-0.14,"v":0.187},{"ppm":-0.20,"v":0.192},{"ppm":-0.26,"v":0.188},{"ppm":-0.32,"v":0.185},{"ppm":-0.38,"v":0.190},{"ppm":-0.44,"v":0.186},{"ppm":-0.49,"v":0.189}
    ],
    "viton": [
      {"ppm":9.38,"v":0.005},{"ppm":9.34,"v":-0.010},{"ppm":9.30,"v":0.012},{"ppm":9.26,"v":-0.004},{"ppm":9.22,"v":0.015},{"ppm":9.18,"v":-0.008},{"ppm":9.14,"v":0.006},{"ppm":9.10,"v":-0.015},{"ppm":9.06,"v":0.010},{"ppm":9.02,"v":-0.002},{"ppm":8.98,"v":0.014},{"ppm":8.94,"v":-0.006},{"ppm":8.90,"v":0.008},{"ppm":8.86,"v":0.024},{"ppm":8.82,"v":-0.004},{"ppm":8.78,"v":0.010},{"ppm":8.74,"v":-0.012},{"ppm":8.70,"v":0.006},{"ppm":8.66,"v":0.016},{"ppm":8.62,"v":-0.008},{"ppm":8.58,"v":0.004},{"ppm":8.54,"v":0.012},{"ppm":8.50,"v":-0.010},{"ppm":8.46,"v":0.008},{"ppm":8.42,"v":-0.004},{"ppm":8.38,"v":0.014},{"ppm":8.34,"v":-0.012},{"ppm":8.30,"v":0.002},{"ppm":8.26,"v":0.010},{"ppm":8.22,"v":-0.008},{"ppm":8.18,"v":0.006},{"ppm":8.14,"v":-0.014},{"ppm":8.10,"v":0.008},{"ppm":8.06,"v":-0.002},{"ppm":8.02,"v":0.012},{"ppm":7.98,"v":-0.010},{"ppm":7.94,"v":0.004},{"ppm":7.90,"v":0.010},{"ppm":7.86,"v":-0.006},{"ppm":7.82,"v":0.008},{"ppm":7.78,"v":0.002},{"ppm":7.74,"v":0.012},{"ppm":7.70,"v":-0.004},{"ppm":7.66,"v":0.014},{"ppm":7.62,"v":0.004},{"ppm":7.58,"v":0.030},{"ppm":7.55,"v":0.026},{"ppm":7.52,"v":0.045},{"ppm":7.50,"v":0.040},{"ppm":7.47,"v":0.060},{"ppm":7.45,"v":0.083},{"ppm":7.43,"v":0.070},{"ppm":7.41,"v":0.045},{"ppm":7.38,"v":0.030},{"ppm":7.35,"v":0.015},{"ppm":7.32,"v":0.020},{"ppm":7.28,"v":0.004},{"ppm":7.24,"v":0.016},{"ppm":7.20,"v":0.008},{"ppm":7.17,"v":0.030},{"ppm":7.15,"v":0.060},{"ppm":7.13,"v":0.143},{"ppm":7.12,"v":0.100},{"ppm":7.10,"v":0.070},{"ppm":7.08,"v":0.050},{"ppm":7.06,"v":0.080},{"ppm":7.04,"v":0.135},{"ppm":7.03,"v":0.090},{"ppm":7.01,"v":0.140},{"ppm":6.99,"v":0.080},{"ppm":6.97,"v":0.050},{"ppm":6.95,"v":0.110},{"ppm":6.93,"v":0.060},{"ppm":6.91,"v":0.040},{"ppm":6.89,"v":0.090},{"ppm":6.87,"v":0.050},{"ppm":6.85,"v":0.070},{"ppm":6.83,"v":0.110},{"ppm":6.82,"v":0.060},{"ppm":6.80,"v":0.130},{"ppm":6.78,"v":0.080},{"ppm":6.76,"v":0.125},{"ppm":6.74,"v":0.090},{"ppm":6.73,"v":0.118},{"ppm":6.71,"v":0.060},{"ppm":6.69,"v":0.030},{"ppm":6.66,"v":0.010},{"ppm":6.62,"v":0.022},{"ppm":6.58,"v":-0.002},{"ppm":6.54,"v":0.012},{"ppm":6.50,"v":-0.008},{"ppm":6.46,"v":0.010},{"ppm":6.42,"v":0.004},{"ppm":6.38,"v":0.016},{"ppm":6.34,"v":-0.010},{"ppm":6.30,"v":0.008},{"ppm":6.26,"v":0.002},{"ppm":6.22,"v":0.014},{"ppm":6.18,"v":-0.006},{"ppm":6.14,"v":0.010},{"ppm":6.10,"v":0.024},{"ppm":6.06,"v":-0.004},{"ppm":6.02,"v":0.008},{"ppm":5.98,"v":0.018},{"ppm":5.94,"v":0.002},{"ppm":5.90,"v":0.022},{"ppm":5.86,"v":0.006},{"ppm":5.82,"v":0.020},{"ppm":5.78,"v":0.000},{"ppm":5.74,"v":0.016},{"ppm":5.70,"v":-0.004},{"ppm":5.66,"v":0.010},{"ppm":5.62,"v":0.004},{"ppm":5.58,"v":0.016},{"ppm":5.54,"v":-0.008},{"ppm":5.50,"v":0.006},{"ppm":5.46,"v":0.012},{"ppm":5.42,"v":-0.006},{"ppm":5.38,"v":0.010},{"ppm":5.34,"v":0.000},{"ppm":5.30,"v":0.012},{"ppm":5.26,"v":-0.010},{"ppm":5.22,"v":0.006},{"ppm":5.18,"v":-0.004},{"ppm":5.14,"v":0.010},{"ppm":5.10,"v":-0.012},{"ppm":5.06,"v":0.004},{"ppm":5.02,"v":0.012},{"ppm":4.98,"v":-0.006},{"ppm":4.94,"v":0.008},{"ppm":4.90,"v":0.018},{"ppm":4.86,"v":0.002},{"ppm":4.82,"v":0.020},{"ppm":4.78,"v":0.010},{"ppm":4.76,"v":0.040},{"ppm":4.74,"v":-0.005},{"ppm":4.72,"v":0.045},{"ppm":4.70,"v":0.000},{"ppm":4.68,"v":0.055},{"ppm":4.67,"v":0.010},{"ppm":4.66,"v":-0.010},{"ppm":4.65,"v":0.030},{"ppm":4.64,"v":-0.030},{"ppm":4.63,"v":-0.040},{"ppm":4.62,"v":-0.020},{"ppm":4.60,"v":0.008},{"ppm":4.56,"v":-0.010},{"ppm":4.52,"v":0.006},{"ppm":4.48,"v":-0.004},{"ppm":4.44,"v":0.010},{"ppm":4.40,"v":-0.008},{"ppm":4.36,"v":0.012},{"ppm":4.32,"v":0.000},{"ppm":4.28,"v":0.014},{"ppm":4.24,"v":-0.006},{"ppm":4.20,"v":0.010},{"ppm":4.16,"v":0.018},{"ppm":4.12,"v":-0.002},{"ppm":4.08,"v":0.012},{"ppm":4.04,"v":0.000},{"ppm":4.00,"v":0.016},{"ppm":3.96,"v":0.004},{"ppm":3.92,"v":0.020},{"ppm":3.88,"v":-0.004},{"ppm":3.84,"v":0.012},{"ppm":3.80,"v":0.028},{"ppm":3.76,"v":0.012},{"ppm":3.72,"v":0.030},{"ppm":3.68,"v":0.014},{"ppm":3.64,"v":0.002},{"ppm":3.60,"v":0.018},{"ppm":3.56,"v":-0.008},{"ppm":3.52,"v":0.006},{"ppm":3.48,"v":-0.012},{"ppm":3.44,"v":0.004},{"ppm":3.40,"v":-0.016},{"ppm":3.36,"v":0.002},{"ppm":3.32,"v":0.012},{"ppm":3.28,"v":-0.006},{"ppm":3.24,"v":0.010},{"ppm":3.20,"v":0.020},{"ppm":3.16,"v":0.004},{"ppm":3.12,"v":0.014},{"ppm":3.08,"v":-0.002},{"ppm":3.04,"v":0.010},{"ppm":3.00,"v":0.020},{"ppm":2.96,"v":0.006},{"ppm":2.92,"v":0.016},{"ppm":2.88,"v":-0.002},{"ppm":2.84,"v":0.008},{"ppm":2.80,"v":0.018},{"ppm":2.76,"v":-0.006},{"ppm":2.72,"v":0.006},{"ppm":2.68,"v":0.014},{"ppm":2.64,"v":-0.004},{"ppm":2.60,"v":0.008},{"ppm":2.56,"v":0.016},{"ppm":2.52,"v":0.004},{"ppm":2.49,"v":0.030},{"ppm":2.46,"v":0.050},{"ppm":2.44,"v":0.060},{"ppm":2.43,"v":0.090},{"ppm":2.42,"v":0.130},{"ppm":2.41,"v":0.100},{"ppm":2.40,"v":0.120},{"ppm":2.39,"v":0.070},{"ppm":2.37,"v":0.040},{"ppm":2.34,"v":0.020},{"ppm":2.30,"v":0.010},{"ppm":2.26,"v":-0.004},{"ppm":2.22,"v":0.008},{"ppm":2.18,"v":0.000},{"ppm":2.14,"v":0.010},{"ppm":2.10,"v":-0.002},{"ppm":2.06,"v":0.006},{"ppm":2.03,"v":0.012},{"ppm":2.015,"v":0.10},{"ppm":2.01,"v":0.32},{"ppm":2.005,"v":0.30},{"ppm":2.00,"v":0.12},{"ppm":1.99,"v":0.04},{"ppm":1.97,"v":0.016},{"ppm":1.93,"v":0.004},{"ppm":1.89,"v":0.018},{"ppm":1.85,"v":-0.006},{"ppm":1.81,"v":0.010},{"ppm":1.77,"v":0.000},{"ppm":1.73,"v":0.014},{"ppm":1.69,"v":-0.008},{"ppm":1.65,"v":0.006},{"ppm":1.61,"v":-0.004},{"ppm":1.57,"v":0.010},{"ppm":1.53,"v":0.002},{"ppm":1.50,"v":0.010},{"ppm":1.47,"v":0.030},{"ppm":1.45,"v":0.060},{"ppm":1.43,"v":0.080},{"ppm":1.41,"v":0.095},{"ppm":1.39,"v":0.100},{"ppm":1.37,"v":0.080},{"ppm":1.35,"v":0.060},{"ppm":1.32,"v":0.045},{"ppm":1.29,"v":0.040},{"ppm":1.27,"v":0.030},{"ppm":1.24,"v":0.055},{"ppm":1.21,"v":0.040},{"ppm":1.18,"v":0.030},{"ppm":1.15,"v":0.050},{"ppm":1.12,"v":0.035},{"ppm":1.09,"v":0.060},{"ppm":1.06,"v":0.030},{"ppm":1.04,"v":0.050},{"ppm":1.02,"v":0.120},{"ppm":1.00,"v":0.200},{"ppm":0.99,"v":0.220},{"ppm":0.98,"v":0.090},{"ppm":0.96,"v":0.020},{"ppm":0.94,"v":0.010},{"ppm":0.92,"v":0.030},{"ppm":0.90,"v":0.015},{"ppm":0.88,"v":0.040},{"ppm":0.86,"v":0.030},{"ppm":0.84,"v":0.070},{"ppm":0.83,"v":0.050},{"ppm":0.81,"v":0.140},{"ppm":0.80,"v":0.160},{"ppm":0.79,"v":0.080},{"ppm":0.78,"v":0.100},{"ppm":0.77,"v":0.060},{"ppm":0.76,"v":0.120},{"ppm":0.75,"v":0.080},{"ppm":0.74,"v":0.180},{"ppm":0.73,"v":0.213},{"ppm":0.72,"v":0.120},{"ppm":0.71,"v":0.140},{"ppm":0.70,"v":0.080},{"ppm":0.69,"v":0.100},{"ppm":0.68,"v":0.070},{"ppm":0.67,"v":0.060},{"ppm":0.66,"v":0.090},{"ppm":0.65,"v":0.050},{"ppm":0.64,"v":0.080},{"ppm":0.63,"v":0.110},{"ppm":0.62,"v":0.170},{"ppm":0.61,"v":0.230},{"ppm":0.60,"v":0.273},{"ppm":0.59,"v":0.200},{"ppm":0.58,"v":0.160},{"ppm":0.57,"v":0.120},{"ppm":0.56,"v":0.070},{"ppm":0.55,"v":0.040},{"ppm":0.53,"v":0.025},{"ppm":0.50,"v":0.018},{"ppm":0.46,"v":0.030},{"ppm":0.42,"v":0.006},{"ppm":0.38,"v":0.020},{"ppm":0.34,"v":0.000},{"ppm":0.30,"v":0.014},{"ppm":0.26,"v":-0.004},{"ppm":0.22,"v":0.012},{"ppm":0.18,"v":-0.010},{"ppm":0.14,"v":0.008},{"ppm":0.10,"v":-0.014},{"ppm":0.06,"v":0.004},{"ppm":0.02,"v":-0.016},{"ppm":-0.02,"v":0.006},{"ppm":-0.06,"v":-0.008},{"ppm":-0.10,"v":0.014},{"ppm":-0.14,"v":0.002},{"ppm":-0.18,"v":0.012},{"ppm":-0.22,"v":0.000},{"ppm":-0.26,"v":0.016},{"ppm":-0.30,"v":0.004},{"ppm":-0.34,"v":0.012},{"ppm":-0.38,"v":0.002},{"ppm":-0.42,"v":0.010},{"ppm":-0.46,"v":0.006},{"ppm":-0.49,"v":0.008},
      {"ppm":9.36,"v":0.018},{"ppm":9.32,"v":-0.006},{"ppm":9.28,"v":0.020},{"ppm":9.24,"v":0.002},{"ppm":9.20,"v":-0.014},{"ppm":9.16,"v":0.016},{"ppm":9.12,"v":-0.004},{"ppm":9.08,"v":0.020},{"ppm":9.04,"v":-0.008},{"ppm":9.00,"v":0.006},{"ppm":8.96,"v":-0.016},{"ppm":8.92,"v":0.018},{"ppm":8.88,"v":-0.004},{"ppm":8.84,"v":0.010},{"ppm":8.80,"v":-0.008},{"ppm":8.76,"v":0.018},{"ppm":8.72,"v":0.000},{"ppm":8.68,"v":-0.010},{"ppm":8.64,"v":0.004},{"ppm":8.60,"v":0.020},{"ppm":8.56,"v":-0.006},{"ppm":8.52,"v":0.016},{"ppm":8.48,"v":0.000},{"ppm":8.44,"v":0.020},{"ppm":8.40,"v":-0.010},{"ppm":8.36,"v":0.004},{"ppm":8.32,"v":0.018},{"ppm":8.28,"v":-0.008},{"ppm":8.24,"v":0.014},{"ppm":8.20,"v":0.000},{"ppm":8.16,"v":0.016},{"ppm":8.12,"v":-0.004},{"ppm":8.08,"v":0.018},{"ppm":8.04,"v":-0.012},{"ppm":8.00,"v":0.004},{"ppm":7.96,"v":0.016},{"ppm":7.92,"v":-0.008},{"ppm":7.88,"v":0.016},{"ppm":7.84,"v":0.002},{"ppm":7.80,"v":0.018},{"ppm":7.76,"v":-0.006},{"ppm":7.72,"v":0.006},{"ppm":7.68,"v":0.020},{"ppm":7.64,"v":-0.002},{"ppm":7.60,"v":0.020},
      {"ppm":6.64,"v":0.000},{"ppm":6.60,"v":0.014},{"ppm":6.56,"v":0.020},{"ppm":6.52,"v":0.002},{"ppm":6.48,"v":0.016},{"ppm":6.44,"v":-0.010},{"ppm":6.40,"v":0.022},{"ppm":6.36,"v":0.004},{"ppm":6.32,"v":0.018},{"ppm":6.28,"v":-0.012},{"ppm":6.24,"v":0.006},{"ppm":6.20,"v":0.018},{"ppm":6.16,"v":0.000},{"ppm":6.12,"v":-0.010},{"ppm":6.08,"v":0.014},{"ppm":6.04,"v":0.020},{"ppm":6.00,"v":-0.006},{"ppm":5.96,"v":0.008},{"ppm":5.92,"v":-0.004},{"ppm":5.88,"v":0.012},{"ppm":5.84,"v":-0.002},{"ppm":5.80,"v":0.010},{"ppm":5.76,"v":0.024},{"ppm":5.72,"v":0.008},{"ppm":5.68,"v":0.020},{"ppm":5.64,"v":-0.008},{"ppm":5.60,"v":0.002},{"ppm":5.56,"v":0.020},{"ppm":5.52,"v":0.004},{"ppm":5.48,"v":-0.010},{"ppm":5.44,"v":0.018},{"ppm":5.40,"v":0.002},{"ppm":5.36,"v":0.018},{"ppm":5.32,"v":-0.010},{"ppm":5.28,"v":0.014},{"ppm":5.24,"v":0.000},{"ppm":5.20,"v":0.016},{"ppm":5.16,"v":0.002},{"ppm":5.12,"v":0.018},{"ppm":5.08,"v":-0.004},{"ppm":5.04,"v":-0.014},{"ppm":5.00,"v":0.016},{"ppm":4.96,"v":0.004},{"ppm":4.92,"v":-0.008},{"ppm":4.88,"v":0.010},{"ppm":4.84,"v":-0.004},{"ppm":4.80,"v":0.030},
      {"ppm":4.58,"v":0.014},{"ppm":4.54,"v":0.004},{"ppm":4.50,"v":0.016},{"ppm":4.46,"v":0.002},{"ppm":4.42,"v":-0.012},{"ppm":4.38,"v":0.006},{"ppm":4.34,"v":-0.006},{"ppm":4.30,"v":0.020},{"ppm":4.26,"v":0.004},{"ppm":4.22,"v":0.016},{"ppm":4.18,"v":0.002},{"ppm":4.14,"v":0.006},{"ppm":4.10,"v":0.022},{"ppm":4.06,"v":0.008},{"ppm":4.02,"v":-0.006},{"ppm":3.98,"v":0.024},{"ppm":3.94,"v":0.010},{"ppm":3.90,"v":0.006},{"ppm":3.86,"v":0.022},{"ppm":3.82,"v":0.002},{"ppm":3.78,"v":0.020},{"ppm":3.74,"v":0.036},{"ppm":3.70,"v":0.006},{"ppm":3.66,"v":0.022},{"ppm":3.62,"v":0.010},{"ppm":3.58,"v":-0.004},{"ppm":3.54,"v":0.014},{"ppm":3.50,"v":0.002},{"ppm":3.46,"v":0.010},{"ppm":3.42,"v":-0.024},{"ppm":3.38,"v":0.012},{"ppm":3.34,"v":-0.004},{"ppm":3.30,"v":0.002},{"ppm":3.26,"v":0.016},{"ppm":3.22,"v":0.000},{"ppm":3.18,"v":0.010},{"ppm":3.14,"v":-0.006},{"ppm":3.10,"v":0.020},{"ppm":3.06,"v":0.004},{"ppm":3.02,"v":-0.004},{"ppm":2.98,"v":0.014},{"ppm":2.94,"v":0.000},{"ppm":2.90,"v":0.010},{"ppm":2.86,"v":0.020},{"ppm":2.82,"v":-0.004},{"ppm":2.78,"v":0.010},{"ppm":2.74,"v":0.016},{"ppm":2.70,"v":-0.004},{"ppm":2.66,"v":0.004},{"ppm":2.62,"v":0.018},{"ppm":2.58,"v":0.002},{"ppm":2.54,"v":-0.004},
      {"ppm":2.28,"v":0.014},{"ppm":2.24,"v":-0.006},{"ppm":2.20,"v":0.016},{"ppm":2.16,"v":-0.008},{"ppm":2.12,"v":0.016},{"ppm":2.08,"v":0.002},{"ppm":2.04,"v":0.018},
      {"ppm":1.95,"v":0.014},{"ppm":1.91,"v":-0.004},{"ppm":1.87,"v":0.010},{"ppm":1.83,"v":0.016},{"ppm":1.79,"v":-0.010},{"ppm":1.75,"v":0.006},{"ppm":1.71,"v":0.018},{"ppm":1.67,"v":0.002},{"ppm":1.63,"v":0.014},{"ppm":1.59,"v":-0.006},{"ppm":1.55,"v":0.016},{"ppm":1.51,"v":0.000},
      {"ppm":0.48,"v":0.004},{"ppm":0.44,"v":0.016},{"ppm":0.40,"v":-0.006},{"ppm":0.36,"v":0.014},{"ppm":0.32,"v":0.020},{"ppm":0.28,"v":0.004},{"ppm":0.24,"v":0.016},{"ppm":0.20,"v":0.002},{"ppm":0.16,"v":0.018},{"ppm":0.12,"v":-0.006},{"ppm":0.08,"v":0.010},{"ppm":0.04,"v":0.000},{"ppm":0.00,"v":0.012},{"ppm":-0.04,"v":-0.010},{"ppm":-0.08,"v":0.016},{"ppm":-0.12,"v":-0.004},{"ppm":-0.16,"v":0.020},{"ppm":-0.20,"v":-0.008},{"ppm":-0.24,"v":0.006},{"ppm":-0.28,"v":-0.010},{"ppm":-0.32,"v":0.018},{"ppm":-0.36,"v":-0.006},{"ppm":-0.40,"v":0.016},{"ppm":-0.44,"v":-0.004},{"ppm":-0.48,"v":0.014}
    ],
    "notes": [
      {"ppm":7.932,"v":0.773,"label":"Formate"},
      {"ppm":6.693,"v":0.794,"label":"secbutylphenol"},
      {"ppm":3.146,"v":0.945,"label":"Acetone"},
      {"ppm":1.346,"v":0.885,"label":"DBP"},
      {"ppm":0.579,"v":0.977,"label":"secbutylphenol"},
      {"ppm":7.005,"v":0.3125,"label":"phthalates"},
      {"ppm":8.253,"v":0.115,"label":"Disodiumphthalate?"},
      {"ppm":3.084,"v":0.148,"label":"2-butanone"}
    ],
    "arrows": [
      {"ppm":7.014,"v":0.760,"ppm2":7.014,"v2":0.638},
      {"ppm":6.72,"v":0.750,"ppm2":6.72,"v2":0.630},
      {"ppm":2.594,"v":0.958,"ppm2":2.389,"v2":0.969},
      {"ppm":1.480,"v":0.794,"ppm2":1.426,"v2":0.698},
      {"ppm":1.292,"v":0.789,"ppm2":1.212,"v2":0.672},
      {"ppm":0.998,"v":0.898,"ppm2":0.945,"v2":0.708},
      {"ppm":0.606,"v":0.930,"ppm2":0.624,"v2":0.708},
      {"ppm":7.629,"v":0.094,"ppm2":7.469,"v2":0.070},
      {"ppm":2.513,"v":0.151,"ppm2":2.014,"v2":0.164},
      {"ppm":2.611,"v":0.138,"ppm2":2.415,"v2":0.125}
    ],
    "bracket": [
      {"ppm":7.228,"v":0.372},{"ppm":7.21,"v":0.357},{"ppm":6.961,"v":0.357},{"ppm":6.934,"v":0.339},{"ppm":6.907,"v":0.357},{"ppm":6.658,"v":0.357},{"ppm":6.640,"v":0.372}
    ]
  },
  "encoding": {
    "x": {
      "field": "ppm",
      "type": "quantitative",
      "scale": {"domain": [-0.49, 9.38], "reverse": true, "nice": false, "zero": false},
      "axis": {
        "title": "PPM shifts relative to tetramethylsilane",
        "titleFont": "Open Sans",
        "titleFontSize": 16.5,
        "titleFontWeight": "normal",
        "titleColor": "#1a1a1a",
        "titleAlign": "center",
        "titleBaseline": "alphabetic",
        "titleX": 380,
        "titleY": 27,
        "values": [-0.25,0,0.25,0.5,0.75,1,1.25,1.5,1.75,2,2.25,2.5,2.75,3,3.25,3.5,3.75,4,4.25,4.5,4.75,5,5.25,5.5,5.75,6,6.25,6.5,6.75,7,7.25,7.5,7.75,8,8.25,8.5,8.75,9,9.25],
        "labelExpr": "abs(datum.value - round(datum.value)) < 0.001 ? format(datum.value, 'd') : ''",
        "labelOverlap": false,
        "labelFont": "Liberation Sans",
        "labelFontSize": 11.5,
        "labelColor": "#5a5048",
        "labelPadding": -1,
        "tickSize": {"condition": {"test": "abs(datum.value - round(datum.value)) < 0.001", "value": 4}, "value": 2},
        "tickColor": "#777777",
        "domainColor": "#9a9a9a"
      }
    },
    "y": {
      "field": "v",
      "type": "quantitative",
      "scale": {"domain": [-0.078, 1.094], "nice": false, "zero": false},
      "axis": {
        "title": "Intensity",
        "titleFont": "Liberation Sans",
        "titleFontSize": 12,
        "titleFontWeight": "normal",
        "titleColor": "#5a5048",
        "titlePadding": 30,
        "values": [-0.06,-0.04,-0.02,0,0.02,0.04,0.06,0.08,0.1,0.12,0.14,0.16,0.18,0.2,0.22,0.24,0.26,0.28,0.3,0.32,0.34,0.36,0.38,0.4,0.42,0.44,0.46,0.48,0.5,0.52,0.54,0.56,0.58,0.6,0.62,0.64,0.66,0.68,0.7,0.72,0.74,0.76,0.78,0.8,0.82,0.84,0.86,0.88,0.9,0.92,0.94,0.96,0.98,1.0,1.02,1.04,1.06,1.08],
        "labelExpr": "abs(datum.value * 10 - round(datum.value * 10)) < 0.001 ? (abs(datum.value) < 0.001 ? '10⁹' : format(datum.value, '.1f')) : ''",
        "labelOverlap": false,
        "labelFont": "Liberation Sans",
        "labelFontSize": 12,
        "labelColor": "#5a5048",
        "labelPadding": 3,
        "tickSize": {"condition": {"test": "abs(datum.value * 10 - round(datum.value * 10)) < 0.001", "value": 4}, "value": 2},
        "tickColor": "#777777",
        "domainColor": "#9a9a9a"
      }
    }
  },
  "layer": [
    {
      "data": {"name": "garlock"},
      "mark": {"type": "line", "strokeWidth": 1.2, "clip": true},
      "encoding": {
        "color": {
          "datum": "Garlock in nitric acid",
          "type": "nominal",
          "scale": {
            "domain": ["Garlock in nitric acid", "Nitric acid control", "ETP nitric acid", "EPTFE in nitric acid", "Viton B in nitric acid"],
            "range": ["#5a5abc", "#2c2c8a", "#c452a6", "#2a8c2a", "#e8262a"]
          },
          "legend": {
            "title": null,
            "orient": "none",
            "legendX": -5,
            "legendY": 8,
            "padding": 0,
            "symbolSize": 1,
            "symbolOpacity": 0,
            "symbolStrokeWidth": 0,
            "labelOffset": 1,
            "labelFont": "Liberation Sans",
            "labelFontSize": 13,
            "rowPadding": 6.5,
            "encode": {"labels": {"update": {"fill": {"scale": "color", "field": "value"}}}}
          }
        }
      }
    },
    {
      "data": {"name": "control"},
      "mark": {"type": "line", "strokeWidth": 1.2, "clip": true},
      "encoding": {"color": {"datum": "Nitric acid control", "type": "nominal"}}
    },
    {
      "data": {"name": "etp"},
      "mark": {"type": "line", "strokeWidth": 1.2, "clip": true},
      "encoding": {"color": {"datum": "ETP nitric acid", "type": "nominal"}}
    },
    {
      "data": {"name": "eptfe"},
      "mark": {"type": "line", "strokeWidth": 1.2, "clip": true},
      "encoding": {"color": {"datum": "EPTFE in nitric acid", "type": "nominal"}}
    },
    {
      "data": {"name": "viton"},
      "mark": {"type": "line", "strokeWidth": 1.2, "clip": true},
      "encoding": {"color": {"datum": "Viton B in nitric acid", "type": "nominal"}}
    },
    {
      "data": {"name": "bracket"},
      "mark": {"type": "line", "color": "#5b8bd0", "strokeWidth": 1.2},
      "encoding": {}
    },
    {
      "data": {"name": "arrows"},
      "mark": {"type": "rule", "color": "#5b8bd0", "strokeWidth": 1.3},
      "encoding": {"x2": {"field": "ppm2"}, "y2": {"field": "v2"}}
    },
    {
      "data": {"name": "arrows"},
      "transform": [
        {"calculate": "atan2((datum.ppm2 - datum.ppm) * 112.2, (datum.v - datum.v2) * 384) * 180 / PI", "as": "heading"}
      ],
      "mark": {"type": "point", "shape": "M0,-1.1L0.55,0.7L-0.55,0.7Z", "filled": true, "color": "#4472c4", "opacity": 1, "size": 130},
      "encoding": {"angle": {"field": "heading", "type": "quantitative", "scale": null}}
    },
    {
      "data": {"name": "notes"},
      "mark": {"type": "text", "font": "Open Sans", "color": "#222222", "align": "center", "baseline": "middle"},
      "encoding": {
        "text": {"field": "label"},
        "size": {"condition": {"test": "datum.label == 'Disodiumphthalate?'", "value": 15}, "value": 17.5}
      }
    }
  ]
}
